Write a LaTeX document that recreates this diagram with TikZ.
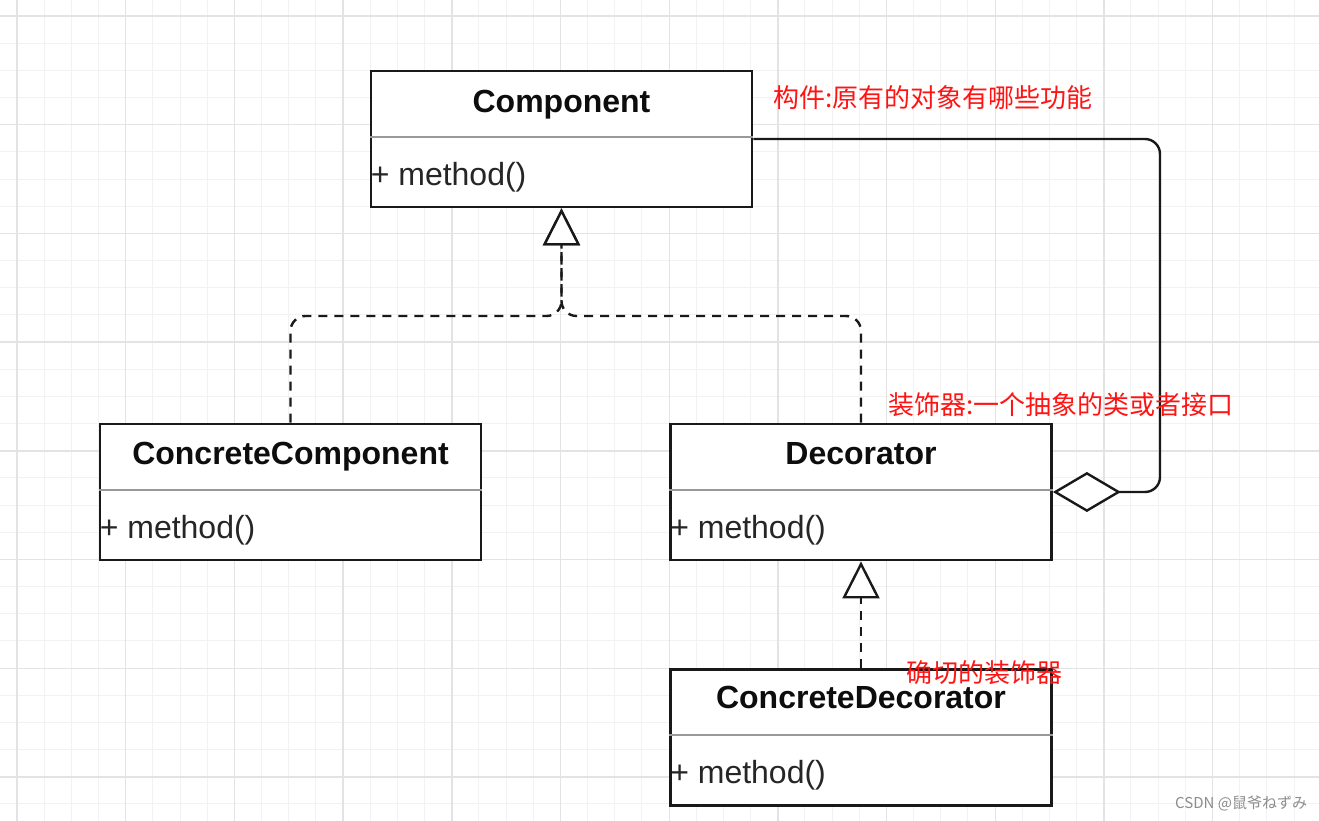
\documentclass[tikz,border=0pt]{standalone}
\usepackage{fontspec}
\setmainfont{Liberation Sans}
\newfontfamily\cjk{Noto Sans CJK SC}
\usetikzlibrary{arrows.meta}
\definecolor{noteRed}{RGB}{255,20,20}
\begin{document}
\begin{tikzpicture}[x=1pt, y=-1pt,
  minorline/.style = {draw=black!5, line width=1pt},
  majorline/.style = {draw=black!11, line width=1.4pt},
  classbox/.style = {draw=black!90, line width=2.8pt, fill=white, minimum width=381pt, minimum height=136pt, inner sep=0},
  divider/.style = {draw=black!40, line width=2pt},
  title/.style = {anchor=base, inner sep=0, font=\fontsize{32}{38}\selectfont\bfseries, text=black!95},
  member/.style = {anchor=base west, inner sep=0, font=\fontsize{32}{38}\selectfont, text=black!85},
  realize/.style = {draw=black!90, line width=2.4pt, dash pattern=on 9pt off 7pt, rounded corners=15pt, -{Triangle[fill=white, length=37pt, width=37pt]}},
  aggregate/.style = {draw=black!90, line width=2.4pt, rounded corners=15pt, -{Diamond[fill=white, length=68pt, width=40pt]}},
  note/.style = {anchor=base west, inner sep=0, font=\cjk\fontsize{26}{30}\selectfont, text=noteRed}]

\useasboundingbox (0,0) rectangle (1319,821);
\fill[white] (0,0) rectangle (1319,821);
\foreach \i in {-1,...,48} \draw[minorline] ({17+27.17*\i}, 0) -- ({17+27.17*\i}, 821);
\foreach \i in {-1,...,30} \draw[minorline] (0, {16+27.17*\i}) -- (1319, {16+27.17*\i});
\foreach \i in {0,...,12} \draw[majorline] ({17+108.7*\i}, 0) -- ({17+108.7*\i}, 821);
\foreach \i in {0,...,7} \draw[majorline] (0, {16+108.7*\i}) -- (1319, {16+108.7*\i});

\node [classbox] (comp) at (561.5, 139) {};
\node [classbox] (ccomp) at (290.5, 492) {};
\node [classbox] (deco) at (861, 492) {};
\node [classbox] (cdeco) at (861, 737.5) {};

\draw[divider] ([yshift=2pt]comp.west) -- ([yshift=2pt]comp.east);
\draw[divider] ([yshift=2pt]ccomp.west) -- ([yshift=2pt]ccomp.east);
\draw[divider] ([yshift=2pt]deco.west) -- ([yshift=2pt]deco.east);
\draw[divider] ([yshift=2.5pt]cdeco.west) -- ([yshift=2.5pt]cdeco.east);

\node [title] (comptitle) at ([yshift=-43pt]comp.north) {Component};
\node [title] (ccomptitle) at ([yshift=-42pt]ccomp.north) {ConcreteComponent};
\node [title] (decotitle) at ([yshift=-42pt]deco.north) {Decorator};
\node [title] (cdecotitle) at ([yshift=-40pt]cdeco.north) {ConcreteDecorator};

\node [member] (compmethod) at ([xshift=1pt, yshift=-116pt]comp.north west) {+ method()};
\node [member] (ccompmethod) at ([xshift=1pt, yshift=-116pt]ccomp.north west) {+ method()};
\node [member] (decomethod) at ([xshift=1pt, yshift=-116pt]deco.north west) {+ method()};
\node [member] (cdecomethod) at ([xshift=1pt, yshift=-115pt]cdeco.north west) {+ method()};

\coordinate (join) at (561.5, 316);
\coordinate (aggr) at (1160, 492);

\draw[realize] (ccomp.north) |- (join) -- (comp.south);
\draw[realize] (deco.north) |- (join) -- (comp.south);
\draw[realize] (cdeco.north) -- (deco.south);
\draw[aggregate] (comp.east) -| (aggr) -- (deco.east);

\node [note] (compnote) at (773, 108) {构件:原有的对象有哪些功能};
\node [note] (deconote) at (888, 414) {装饰器:一个抽象的类或者接口};
\node [note] (cdeconote) at (906, 682) {确切的装饰器};

\node [anchor=base west, inner sep=0, font=\cjk\fontsize{15}{18}\selectfont, text=black!45] (mark) at (1175, 808) {CSDN @鼠爷ねずみ};
\end{tikzpicture}
\end{document}
